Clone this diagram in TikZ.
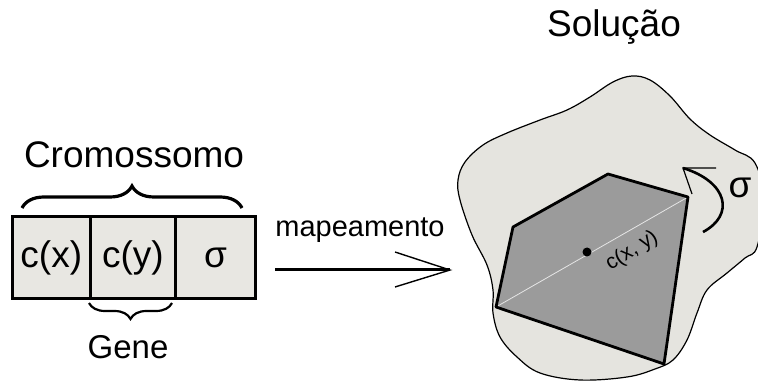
\documentclass[tikz,border=0pt]{standalone}
\usepackage{fontspec}
\setmainfont{Liberation Sans}
\usetikzlibrary{decorations.pathreplacing}
\definecolor{paper}{HTML}{E5E4DF}
\definecolor{cellfill}{HTML}{E8E7E2}
\definecolor{facet}{HTML}{9B9B9B}
\newcommand{\fs}[1]{\fontsize{#1}{#1}\selectfont}
\tikzset{
  cell/.style={draw, line width=1.6pt, fill=cellfill, minimum height=81pt,
    inner sep=0pt, anchor=west, font=\fs{37}},
  label/.style={inner sep=0pt},
  bracebig/.style={decorate, decoration={brace, amplitude=22pt}, line width=3.2pt},
  bracesmall/.style={decorate, decoration={brace, amplitude=16pt, mirror}, line width=2.2pt},
  edge/.style={line width=2.8pt, line join=round},
}
\begin{document}
\begin{tikzpicture}[x=1pt, y=-1pt]
\useasboundingbox (0,0) rectangle (758,382);

% chromosome: three genes
\node[cell, minimum width=77pt] (cx) at (12,257.5) {c(x)};
\node[cell, minimum width=83pt] (cy) at (cx.east) {c(y)};
\node[cell, minimum width=79pt] (cs) at (cy.east) {σ};
\draw[line width=2.6pt] (cx.north west) rectangle (cs.south east);

\coordinate (bl) at (22,208);
\coordinate (br) at (242,208);
\draw[bracebig] (bl) -- (br);
\node[label, font=\fs{37}] (crom) at (134,155) {Cromossomo};

\coordinate (gl) at (89,303);
\coordinate (gr) at (172,303);
\draw[bracesmall] (gl) -- (gr);
\node[label, font=\fs{33}] (gene) at (128,347) {Gene};

% mapping arrow
\node[label, font=\fs{29}] (map) at (360,230) {mapeamento};
\coordinate (a0) at (275,270);
\coordinate (a1) at (450,270);
\coordinate (h1) at (395,252);
\coordinate (h2) at (395,287);
\draw[line width=3pt] (a0) -- (a1);
\draw[line width=1.4pt] (h1) -- (a1) -- (h2);

% solution space
\node[label, font=\fs{37}] (sol) at (614,27) {Solução};
\draw[line width=1.2pt, fill=paper] plot[smooth cycle, tension=0.6] coordinates {
  (613,82) (632,76) (650,80) (670,96) (690,119) (710,135) (735,150) (755,163)
  (764,200) (757,247) (745,258) (727,273) (707,290) (697,313) (687,340)
  (673,360) (655,369) (627,377) (580,380) (540,373) (517,357) (500,337)
  (493,313) (493,290) (487,265) (472,235) (460,200) (458,180) (465,162)
  (483,145) (507,133) (540,120) (567,110) (590,97)};

% the solution polygon
\coordinate (p1) at (608,174);
\coordinate (p2) at (688,197);
\coordinate (p3) at (664,364);
\coordinate (p4) at (496,307);
\coordinate (p5) at (513,227);
\fill[facet] (p1) -- (p2) -- (p3) -- (p4) -- (p5) -- cycle;
\draw[white!80!gray, line width=0.8pt] (p4) -- (p2);
\draw[edge] (p1) -- (p2) -- (p3) -- (p4) -- (p5) -- cycle;

\fill (587,252) circle (4.5pt) coordinate (ctr);
\node[label, font=\fs{21}, rotate=32] (cxy) at (632,251) {c(x, y)};

% rotation sigma
\coordinate (r0) at (703,232);
\coordinate (r1) at (683,168);
\coordinate (t1) at (716,168);
\coordinate (t2) at (692,194);
\draw[line width=2.6pt] (r0) .. controls (735,215) and (728,182) .. (r1);
\draw[line width=1.2pt] (t1) -- (r1) -- (t2);
\node[label, font=\fs{37}] (sig) at (740,188) {σ};
\end{tikzpicture}
\end{document}
